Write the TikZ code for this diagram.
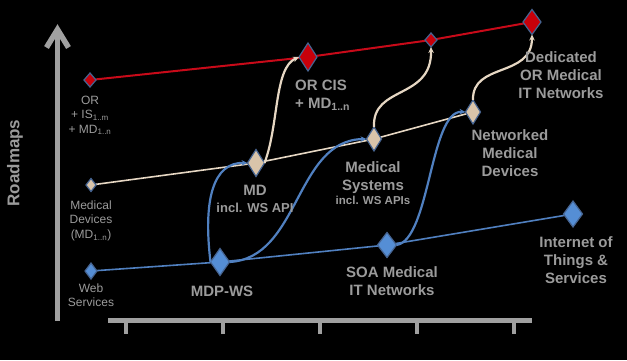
\documentclass[tikz,border=0pt]{standalone}
\usepackage{fontspec}
\setmainfont{Liberation Sans}
\usetikzlibrary{shapes.geometric,arrows.meta,backgrounds}
\definecolor{txtgray}{RGB}{155,155,155}
\definecolor{axisgray}{RGB}{160,160,160}
\definecolor{redfill}{RGB}{200,0,10}
\definecolor{redline}{RGB}{200,10,25}
\definecolor{dborder}{RGB}{70,100,145}
\definecolor{beigefill}{RGB}{217,196,170}
\definecolor{beigeline}{RGB}{230,215,195}
\definecolor{bluefill}{RGB}{85,142,213}
\definecolor{blueline}{RGB}{80,128,192}
\begin{document}
\begin{tikzpicture}[x=1pt,y=-1pt,
  dia/.style={diamond, draw=dborder, line width=1.2pt, inner sep=0pt, outer sep=0pt},
  rdia/.style={dia, fill=redfill},
  bdia/.style={dia, fill=beigefill},
  ldia/.style={dia, fill=bluefill},
  sz/.style 2 args={minimum width=#1pt, minimum height=#2pt},
  redconn/.style={draw=redline, line width=2pt},
  beigeconn/.style={draw=beigeline, line width=1.6pt},
  blueconn/.style={draw=blueline, line width=1.6pt},
  beigearrow/.style={draw=beigeline, line width=2.2pt, -{Stealth[length=6pt,width=5.5pt]}},
  bluearrow/.style={draw=blueline, line width=2.2pt, -{Stealth[length=6pt,width=5.5pt]}},
  smalllbl/.style={text=txtgray, align=center, inner sep=0pt, font=\fontsize{12}{14.5}\selectfont},
  biglbl/.style={text=txtgray, align=center, inner sep=0pt, font=\fontsize{15}{18}\selectfont\bfseries},
  midlbl/.style={text=txtgray, align=center, inner sep=0pt, font=\fontsize{13}{15}\selectfont\bfseries},
  sublbl/.style={text=txtgray, align=center, inner sep=0pt, font=\fontsize{11.5}{14}\selectfont\bfseries},
  axisline/.style={draw=axisgray, line width=5.5pt}
]
\useasboundingbox (0,0) rectangle (627,360);

% axes
\draw[axisline] (57.5,321) -- (57.5,31);
\draw[axisline, line join=miter] (46.5,47.5) -- (57.5,29.5) -- (68.5,47.5);
\draw[draw=axisgray, line width=5pt] (108,320.5) -- (532,320.5);
\foreach \tx in {126,223,320,417,514}{
  \draw[draw=axisgray, line width=4pt] (\tx,320) -- (\tx,334);
}
\node[text=txtgray, rotate=90, inner sep=0pt, font=\fontsize{17}{20}\selectfont\bfseries] (road) at (15,163) {Roadmaps};

% diamonds
\node[rdia, sz={12}{14}] (r1) at (90,80) {};
\node[rdia, sz={18}{28}] (r2) at (308,57) {};
\node[rdia, sz={12}{14}] (r3) at (431,40) {};
\node[rdia, sz={18}{25}] (r4) at (532,22) {};

\node[bdia, sz={10}{13}] (b1) at (91,185) {};
\node[bdia, sz={17}{27}] (b2) at (256,163) {};
\node[bdia, sz={15}{24}] (b3) at (374,139) {};
\node[bdia, sz={15}{24}] (b4) at (473,112) {};

\node[ldia, sz={12}{16}] (l1) at (91,271) {};
\node[ldia, sz={19}{27}] (l2) at (220,262) {};
\node[ldia, sz={19}{25}] (l3) at (387,245) {};
\node[ldia, sz={19}{26}] (l4) at (573,214) {};

% background and straight connectors
\begin{scope}[on background layer]
\fill[black] (0,0) rectangle (627,360);
\draw[redconn] (r1) -- (r2) -- (r3) -- (r4);
\draw[beigeconn] (b1) -- (b2) -- (b3) -- (b4);
\draw[blueconn] (l1) -- (l2) -- (l3) -- (l4);
\end{scope}

% curved arrows
\draw[beigearrow] (b2.east) .. controls (279,125) and (274,68) .. (r2.west);
\draw[beigearrow] (b3.north) .. controls (372,85) and (432,100) .. (r3.south);
\draw[beigearrow] (b4.north) .. controls (472,62) and (532,78) .. (r4.south);
\draw[bluearrow] (l2.west) .. controls (203,200) and (213,162) .. (b2.west);
\draw[bluearrow] (l2.east) .. controls (300,258) and (295,140) .. (b3.west);
\draw[bluearrow] (l3.east) .. controls (430,240) and (430,110) .. (b4.west);

% labels
\node[smalllbl, anchor=north] (lor) at (90,95.5) {OR\\+ IS\textsubscript{1..m}\\+ MD\textsubscript{1..n}};
\node[smalllbl, anchor=north] (lmdv) at (91,200.5) {Medical\\Devices\\(MD\textsubscript{1..n})};
\node[smalllbl, anchor=north] (lws) at (91,283.5) {Web\\Services};

\node[biglbl, anchor=north] (lmdpws) at (222,285.5) {MDP-WS};
\node[biglbl, anchor=north] (lmd) at (255,184.5) {MD};
\node[midlbl, anchor=north] (lmdsub) at (255,203.3) {incl. WS API};
\node[biglbl, anchor=north west, align=left] (lorcis) at (295,79.5) {OR CIS\\+ MD\textsubscript{1..n}};
\node[biglbl, anchor=north] (lms) at (373,161.5) {Medical\\Systems};
\node[sublbl, anchor=north] (lmssub) at (373,195.7) {incl. WS APIs};
\node[biglbl, anchor=north] (lnmd) at (510,129.5) {Networked\\Medical\\Devices};
\node[biglbl, anchor=north] (lded) at (561,51.5) {Dedicated\\OR Medical\\IT Networks};
\node[biglbl, anchor=north] (lsoa) at (392,266.5) {SOA Medical\\IT Networks};
\node[biglbl, anchor=north] (liot) at (576,236.5) {Internet of\\Things \&\\Services};
\end{tikzpicture}
\end{document}
